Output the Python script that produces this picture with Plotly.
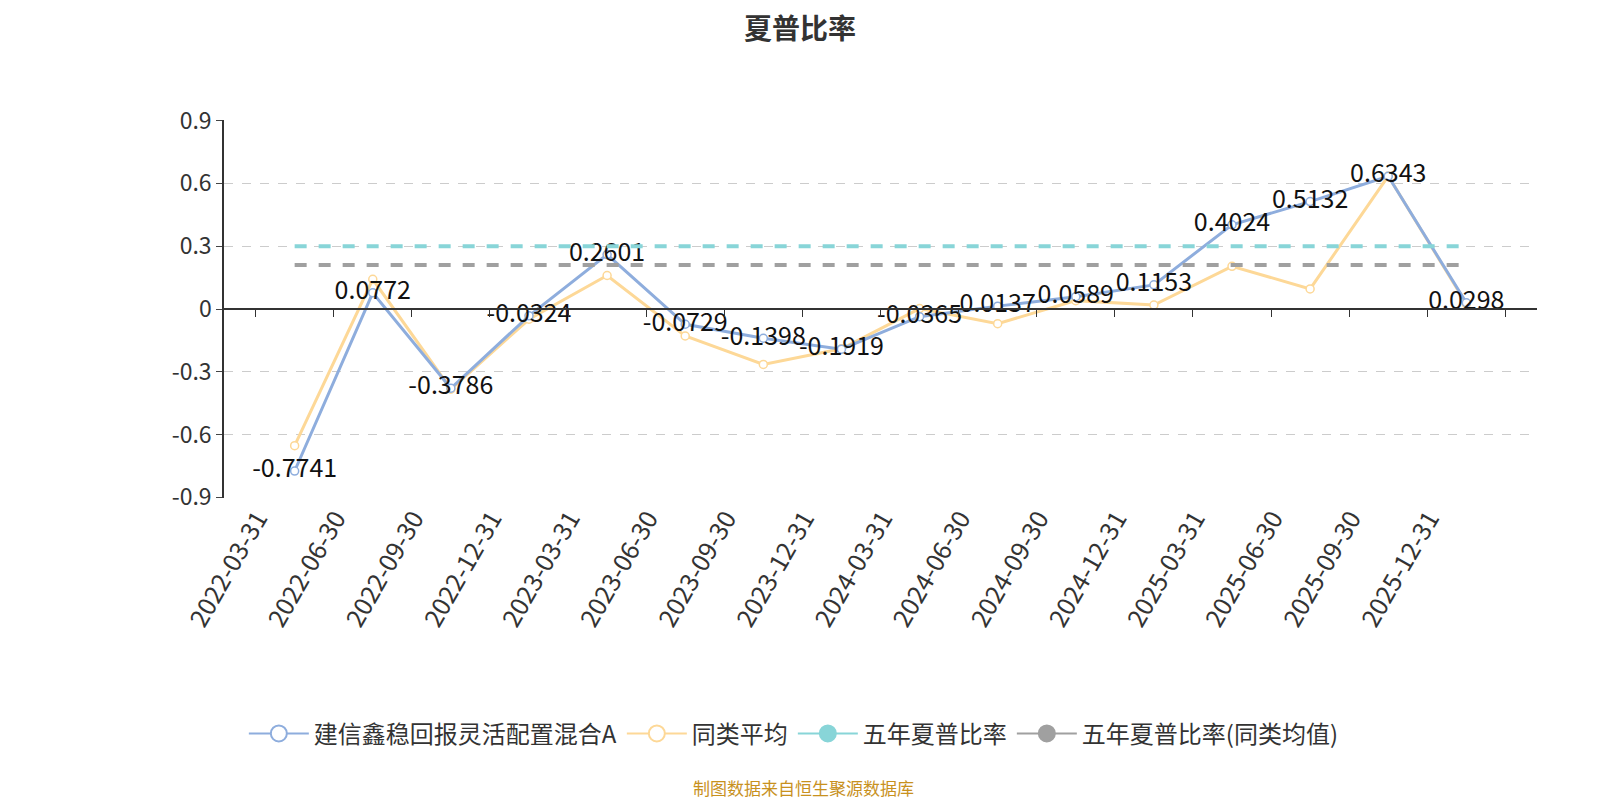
import plotly.graph_objects as go

# 报告期
dates = ['2022-03-31', '2022-06-30', '2022-09-30', '2022-12-31', '2023-03-31', '2023-06-30',
         '2023-09-30', '2023-12-31', '2024-03-31', '2024-06-30', '2024-09-30', '2024-12-31',
         '2025-03-31', '2025-06-30', '2025-09-30', '2025-12-31']

# 基金夏普比率
fund_sharpe = [-0.7741, 0.0772, -0.3786, -0.0324, 0.2601, -0.0729, -0.1398, -0.1919,
               -0.0365, 0.0137, 0.0589, 0.1153, 0.4024, 0.5132, 0.6343, 0.0298]
# 同类平均
peer_avg = [-0.653, 0.142, -0.383, -0.049, 0.160, -0.129, -0.265, -0.190,
            0.002, -0.070, 0.040, 0.019, 0.204, 0.096, 0.635, 0.024]
five_year = 0.30
five_year_peer = 0.21

y_ticks = [0.9, 0.6, 0.3, 0, -0.3, -0.6, -0.9]
y_tick_text = ['0.9', '0.6', '0.3', '0', '-0.3', '-0.6', '-0.9']

blue = '#8eaddd'
yellow = '#fdd897'
cyan = '#88d5d8'
grey = '#a0a0a0'
font = 'Noto Sans CJK SC, Microsoft YaHei, sans-serif'

fig = go.Figure()

# 五年夏普比率 水平虚线（放在 x2 上，x2 即 0 轴）
fig.add_trace(go.Scatter(x=dates, y=[five_year] * len(dates), mode='lines',
                         line=dict(color=cyan, width=4, dash='dash'),
                         xaxis='x2', showlegend=False, hoverinfo='skip'))
fig.add_trace(go.Scatter(x=dates, y=[five_year_peer] * len(dates), mode='lines',
                         line=dict(color=grey, width=4, dash='dash'),
                         xaxis='x2', showlegend=False, hoverinfo='skip'))

fig.add_trace(go.Scatter(x=dates, y=peer_avg, mode='lines+markers', name='同类平均',
                         line=dict(color=yellow, width=3), showlegend=False,
                         marker=dict(size=8, color='white', line=dict(color=yellow, width=1.5))))
fig.add_trace(go.Scatter(x=dates, y=fund_sharpe, mode='lines+markers+text',
                         name='建信鑫稳回报灵活配置混合A', showlegend=False,
                         line=dict(color=blue, width=3),
                         marker=dict(size=8, color='white', line=dict(color=blue, width=1.5)),
                         text=[f'{v:.4f}' for v in fund_sharpe],
                         textposition='middle center',
                         textfont=dict(size=25, color='#111')))

# 图例用的占位
legend_items = [('建信鑫稳回报灵活配置混合A', blue, 'white'),
                ('同类平均', yellow, 'white'),
                ('五年夏普比率', cyan, cyan),
                ('五年夏普比率(同类均值)', grey, grey)]
for name, col, fill in legend_items:
    fig.add_trace(go.Scatter(x=[None], y=[None], mode='lines+markers', name=name,
                             line=dict(color=col, width=2),
                             marker=dict(size=16, color=fill, line=dict(color=col, width=2))))

fig.update_layout(
    width=1600, height=800,
    paper_bgcolor='white', plot_bgcolor='white',
    font=dict(family=font, color='#333'),
    title=dict(text='<b>夏普比率</b>', x=0.495, xanchor='center', y=0.973, yanchor='middle',
               font=dict(size=28, color='#333')),
    margin=dict(l=216, r=71, t=112, b=310),
    xaxis=dict(type='category', showline=False, ticks='', showgrid=False, zeroline=False,
               tickangle=-60, tickfont=dict(size=25, color='#333'), ticklabelshift=-37),
    xaxis2=dict(type='category', overlaying='x', matches='x', anchor='free', position=0.5,
                side='bottom', showline=True, linecolor='#333', linewidth=2,
                ticks='outside', ticklen=7, tickcolor='#333', tickson='boundaries',
                showticklabels=False, showgrid=False),
    yaxis=dict(range=[-0.903, 0.903], tickvals=y_ticks, ticktext=y_tick_text,
               showline=True, linecolor='#333', linewidth=1.5, ticks='outside', ticklen=6,
               showgrid=True, gridcolor='#cccccc', griddash='dash', zeroline=False,
               tickfont=dict(size=23, color='#333')),
    legend=dict(orientation='h', x=0.434, xanchor='center', y=-0.624, yanchor='middle',
                font=dict(size=24, color='#333'), itemwidth=60),
    showlegend=True,
)

fig.add_annotation(text='制图数据来自恒生聚源数据库', xref='paper', yref='paper',
                   x=0.441, y=-0.767, xanchor='center', yanchor='middle', showarrow=False,
                   font=dict(size=17, color='#c8911e'))

fig.write_html('out.html')
